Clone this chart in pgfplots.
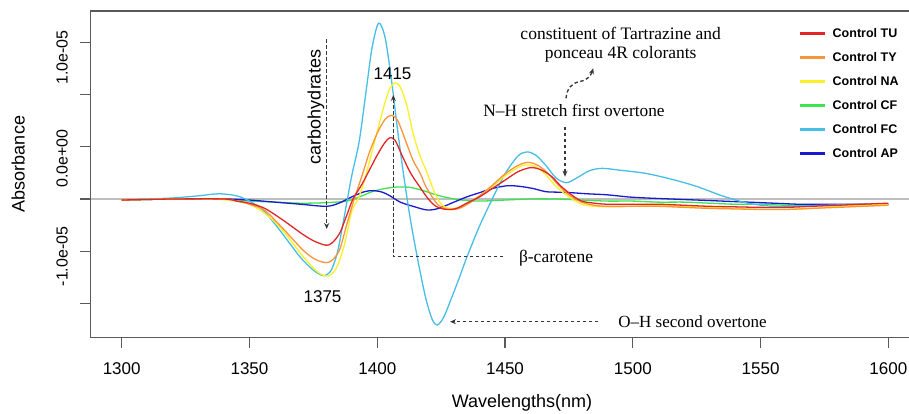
\documentclass[border=0pt]{standalone}
\usepackage{pgfplots}
\pgfplotsset{compat=1.18}
\usetikzlibrary{arrows.meta}
\usepackage{fontspec}
\setmainfont{Liberation Serif}
\newfontfamily\arial{Liberation Sans}
\newcommand\fs[1]{\fontsize{#1}{#1}\selectfont}
\definecolor{cTU}{RGB}{226,38,38}
\definecolor{cTY}{RGB}{247,148,60}
\definecolor{cNA}{RGB}{250,240,40}
\definecolor{cCF}{RGB}{60,228,80}
\definecolor{cFC}{RGB}{70,190,230}
\definecolor{cAP}{RGB}{25,25,210}
\definecolor{axgray}{RGB}{90,90,90}
\definecolor{zgray}{RGB}{190,190,190}
\definecolor{anngray}{RGB}{55,55,55}
\begin{document}
\begin{tikzpicture}
\path[use as bounding box] (0,0) rectangle (909pt,413pt);
\begin{axis}[at={(90.7pt,75.7pt)}, anchor=south west, scale only axis,
  width=818.3pt, height=326.3pt,
  xmin=1287.87, xmax=1608.08, ymin=-1.322, ymax=1.797,
  axis line style={draw=none},
  xtick={1300,1350,1400,1450,1500,1550,1600},
  ytick={-1,-0.5,0,0.5,1,1.5},
  xticklabel=\empty, yticklabel=\empty,
  tick align=outside, xtick pos=left, ytick pos=left,
  major tick length=11pt,
  tick style={line width=1.1pt, color=axgray},
  clip=true]
\addplot[zgray, line width=1.4pt] coordinates {(1287.87,0) (1608.08,0)};
% Control CF
\addplot[cCF, line width=1.3pt, smooth] coordinates {
(1300,-0.01) (1320,0) (1340,0) (1350,-0.02) (1360,-0.03) (1370,-0.04) (1380,-0.035)
(1388,-0.02) (1393,0.02) (1398,0.07) (1403,0.10) (1408,0.115) (1413,0.11) (1418,0.08)
(1423,0.04) (1428,0.01) (1433,-0.01) (1440,-0.02) (1450,-0.01) (1460,0) (1470,0)
(1480,-0.01) (1490,-0.02) (1500,-0.02) (1510,-0.03) (1520,-0.03) (1530,-0.04)
(1540,-0.05) (1550,-0.05) (1560,-0.06) (1570,-0.06) (1580,-0.06) (1590,-0.06) (1600,-0.06)};
% Control AP
\addplot[cAP, line width=1.3pt, smooth] coordinates {
(1300,-0.01) (1320,0) (1340,0) (1350,-0.01) (1360,-0.03) (1370,-0.05) (1380,-0.07)
(1385,-0.04) (1390,0.02) (1395,0.07) (1398.5,0.08) (1402,0.065) (1405,0.03) (1409,-0.03)
(1414,-0.07) (1419.5,-0.105) (1424,-0.09) (1430,-0.03) (1435,0.02) (1440,0.06)
(1445,0.10) (1451,0.127) (1456,0.12) (1461,0.10) (1466,0.07) (1471,0.065) (1476,0.06)
(1482,0.05) (1490,0.04) (1498,0.02) (1505,0.01) (1515,0) (1525,-0.01) (1535,-0.02)
(1545,-0.03) (1555,-0.04) (1565,-0.05) (1575,-0.05) (1585,-0.05) (1600,-0.05)};
% Control FC
\addplot[cFC, line width=1.3pt, smooth] coordinates {
(1300,-0.01) (1310,0) (1320,0.01) (1330,0.03) (1338,0.05) (1345,0.03) (1350,-0.02)
(1355,-0.10) (1360,-0.24) (1365,-0.40) (1370,-0.56) (1375,-0.68) (1379,-0.733)
(1382,-0.68) (1384.5,-0.50) (1387,-0.18) (1390,0.22) (1393,0.56) (1396,1.10)
(1398,1.45) (1400.5,1.68) (1403,1.55) (1405.5,1.15) (1408,0.65) (1410.5,0.2)
(1413,-0.2) (1416,-0.6) (1419,-0.95) (1421.5,-1.15) (1423.5,-1.205) (1426,-1.13)
(1429,-0.95) (1432,-0.76) (1435,-0.56) (1440,-0.26) (1445,0) (1450,0.24) (1455,0.41)
(1458.5,0.45) (1462,0.42) (1466,0.32) (1470,0.2) (1474,0.156) (1478,0.2) (1483,0.27)
(1488,0.293) (1495,0.275) (1505,0.245) (1515,0.19) (1525,0.12) (1535,0.03)
(1545,-0.04) (1555,-0.07) (1565,-0.07) (1575,-0.06) (1590,-0.05) (1600,-0.05)};
% Control NA
\addplot[cNA, line width=1.3pt, smooth] coordinates {
(1300,-0.01) (1320,0) (1335,0) (1345,-0.02) (1350,-0.05) (1355,-0.12) (1360,-0.22)
(1365,-0.36) (1370,-0.52) (1375,-0.66) (1378,-0.72) (1381,-0.736) (1384,-0.66)
(1387,-0.45) (1390,-0.12) (1392.5,0) (1395,0.18) (1399,0.55) (1403,0.92) (1405,1.06)
(1407,1.11) (1409,1.07) (1411.5,0.9) (1414,0.63) (1416.5,0.43) (1419.5,0.25)
(1423,0.03) (1426,-0.07) (1430,-0.09) (1435,-0.05) (1440,0.03) (1445,0.12)
(1450,0.22) (1455,0.30) (1458,0.325) (1462,0.31) (1466,0.23) (1470,0.12) (1475,0.02)
(1480,-0.05) (1485,-0.07) (1490,-0.075) (1500,-0.07) (1510,-0.06) (1520,-0.07)
(1530,-0.08) (1540,-0.09) (1550,-0.10) (1560,-0.10) (1570,-0.09) (1580,-0.07)
(1590,-0.06) (1600,-0.05)};
% Control TY
\addplot[cTY, line width=1.3pt, smooth] coordinates {
(1300,-0.01) (1320,0) (1340,0) (1345,-0.02) (1350,-0.05) (1356,-0.11) (1363,-0.28)
(1371,-0.49) (1376,-0.58) (1381,-0.605) (1385,-0.50) (1388,-0.25) (1391,0)
(1394,0.22) (1397,0.45) (1400,0.63) (1403,0.76) (1405.5,0.80) (1408,0.75)
(1411.5,0.53) (1414,0.37) (1416.7,0.25) (1419,0.12) (1421.5,0.02) (1424,-0.06)
(1428,-0.10) (1432,-0.09) (1436,-0.04) (1440,0.03) (1445,0.13) (1450,0.24)
(1455,0.32) (1459,0.35) (1463,0.32) (1467,0.24) (1471,0.13) (1475,0.04) (1480,-0.03)
(1485,-0.06) (1490,-0.07) (1500,-0.07) (1510,-0.07) (1520,-0.08) (1530,-0.09)
(1540,-0.095) (1550,-0.10) (1560,-0.10) (1570,-0.09) (1580,-0.08) (1590,-0.07) (1600,-0.06)};
% Control TU
\addplot[cTU, line width=1.3pt, smooth] coordinates {
(1300,-0.01) (1320,0) (1340,0) (1345,-0.02) (1350,-0.04) (1356,-0.09) (1363,-0.20)
(1371,-0.34) (1376,-0.41) (1381,-0.44) (1385,-0.34) (1388,-0.16) (1390.5,0)
(1394,0.14) (1397,0.28) (1400,0.42) (1403,0.54) (1405,0.586) (1407,0.56) (1410,0.40)
(1413,0.25) (1416.5,0.12) (1420,0) (1423,-0.07) (1427,-0.10) (1431,-0.09)
(1435,-0.04) (1440,0.02) (1445,0.10) (1450,0.18) (1455,0.26) (1460,0.30) (1464,0.28)
(1468,0.22) (1472,0.12) (1476,0.04) (1480,-0.02) (1485,-0.04) (1490,-0.05)
(1500,-0.05) (1510,-0.05) (1520,-0.06) (1530,-0.07) (1540,-0.075) (1550,-0.08)
(1560,-0.08) (1570,-0.07) (1580,-0.06) (1590,-0.05) (1600,-0.04)};
\end{axis}
\begin{scope}[x=1pt,y=-1pt,yshift=413pt]
% spines (right side cropped)
\draw[axgray, line width=1.3pt] (909,11) -- (90.7,11) -- (90.7,337.3) -- (909,337.3);
% x tick labels
\foreach \v/\px in {1300/121.7,1350/249.5,1400/377.3,1450/505,1500/632.8,1550/760.6,1600/888.3}
  \node[font=\arial\fs{17}, inner sep=0pt] at (\px,369) {\v};
% y tick labels
\node[font=\arial\fs{16}, inner sep=0pt, rotate=90] at (62,57.5) {1.0e-05};
\node[font=\arial\fs{16}, inner sep=0pt, rotate=90] at (62,158.5) {0.0e+00};
\node[font=\arial\fs{16}, inner sep=0pt, rotate=90] at (62,256.5) {-1.0e-05};
% axis labels
\node[font=\arial\fs{18}, inner sep=0pt, rotate=90] at (18.3,164) {Absorbance};
\node[font=\arial\fs{18}, inner sep=0pt] at (522,403) {Wavelengths(nm)};
% annotations
\tikzset{ann/.style={anngray, line width=1.35pt, dash pattern=on 3.5pt off 2.5pt},
  ah/.style={-{Stealth[length=6pt,width=5pt]}}}
\node[font=\arial\fs{18}, inner sep=0pt, rotate=90] at (316,107) {carbohydrates};
\draw[ann,ah] (326.7,39.3) -- (326.7,229);
\node[font=\arial\fs{17}, inner sep=0pt] at (392.5,73.5) {1415};
\node[font=\arial\fs{17}, inner sep=0pt] at (322.5,296.5) {1375};
\draw[ann,ah] (503.3,256.7) -- (393.3,256.7) -- (393.3,95);
\node[font=\fs{17.5}, inner sep=0pt] at (556,258) {β-carotene};
\draw[ann,ah] (598.3,321.7) -- (450,321.7);
\node[font=\fs{17}, inner sep=0pt] at (692.5,321.7) {O–H second overtone};
\node[font=\fs{17.3}, inner sep=0pt] at (574,110) {N–H stretch first overtone};
\draw[ann,ah] (565,126.7) -- (565,176.7);
\node[font=\fs{17.5}, inner sep=0pt] at (620.7,33) {constituent of Tartrazine and};
\node[font=\fs{17.5}, inner sep=0pt] at (620.7,54) {ponceau 4R colorants};
\draw[ann,ah] (566,98.3) .. controls (567,88) and (572,83) .. (580,81.5) .. controls (588,80) and (591,75) .. (593.3,68.3);
% legend
\foreach \c/\t [count=\i from 0] in {cTU/Control TU,cTY/Control TY,cNA/Control NA,cCF/Control CF,cFC/Control FC,cAP/Control AP}{
  \draw[\c, line width=2.6pt] (800,33.5+24*\i) -- (825,33.5+24*\i);
  \node[font=\arial\bfseries\fs{12.5}, inner sep=0pt, anchor=west] at (832.5,33.5+24*\i) {\t};
}
\end{scope}
\end{tikzpicture}
\end{document}
